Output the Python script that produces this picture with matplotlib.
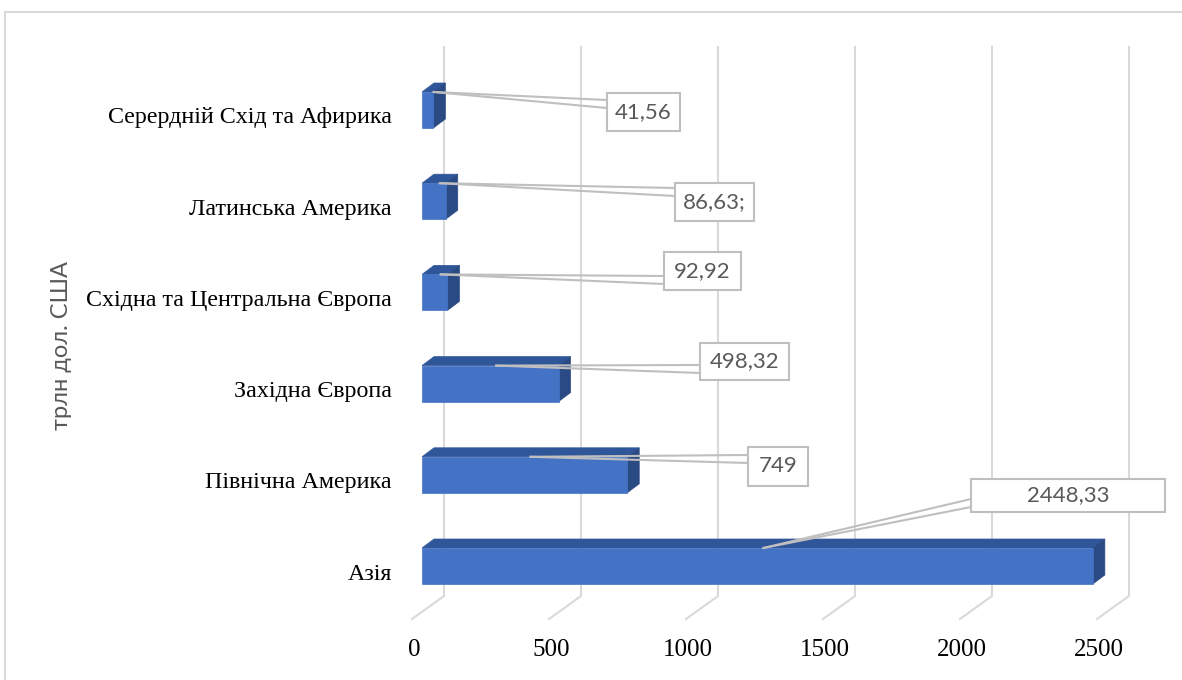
import matplotlib
matplotlib.use("Agg")
import matplotlib.pyplot as plt
from matplotlib.patches import Rectangle, Polygon
from matplotlib.lines import Line2D

# ---------------- data ----------------
categories = ["Азія", "Північна Америка", "Західна Європа",
              "Східна та Центральна Європа", "Латинська Америка",
              "Серердній Схід та Афирика"]
values = [2448.33, 749, 498.32, 92.92, 86.63, 41.56]
value_labels = ["2448,33", "749", "498,32", "92,92", "86,63;", "41,56"]
x_ticks = [0, 500, 1000, 1500, 2000, 2500]
y_title = "трлн дол. США"

# ---------------- layout (pixels) ----------------
W, H = 1182, 680
# callout boxes: left, top, width, height, wedge-y (from top)
boxes = [(971, 479, 194, 33, 503),
         (748, 447, 60, 39, 459),
         (700, 343, 89, 37, 369),
         (664, 252, 77, 38, 280),
         (675, 183, 79, 38, 192),
         (607, 93, 73, 38, 104)]

FRONT = "#4472C4"
TOP = "#30569A"
SIDE = "#2A4A84"
GRID = "#D9D9D9"
TXT_GRAY = "#595959"

fig = plt.figure(figsize=(W / 100, H / 100), dpi=100)
ax_left, ax_right = 422, 1107
ax_top, ax_bot = 47, 619
ax = fig.add_axes([ax_left / W, 1 - ax_bot / H, (ax_right - ax_left) / W, (ax_bot - ax_top) / H])
ax.set_xlim(0, 2500)
unit = 91.2
ax.set_ylim(-(ax_bot - 566) / unit, (566 - ax_top) / unit)
ax.axis("off")
ax.patch.set_alpha(0)

inv = ax.transData.inverted()


def pd(x, y, dx=0.0, dy=0.0):
    """data point shifted by pixel offsets (dy positive downward) -> data coords"""
    disp = ax.transData.transform((x, y))
    return tuple(inv.transform((disp[0] + dx, disp[1] - dy)))


def pix(px, py):
    return tuple(inv.transform((px, H - py)))


# chart border
fig.add_artist(Line2D([5 / W, 1], [1 - 12 / H, 1 - 12 / H], color=GRID, lw=1.5))
fig.add_artist(Line2D([5 / W, 5 / W], [0, 1 - 12 / H], color=GRID, lw=1.5))

# gridlines (back wall + floor)
y_back_floor = -(596 - 566) / unit
for t in x_ticks:
    p_top = pd(t, ax.get_ylim()[1], 22, 0)
    p_back = pd(t, y_back_floor, 22, 0)
    p_front = pd(t, y_back_floor, -10, 23)
    ax.add_line(Line2D([p_top[0], p_back[0], p_front[0]],
                       [p_top[1], p_back[1], p_front[1]],
                       color=GRID, lw=1.5, zorder=1, clip_on=False))
    lab = pd(t, y_back_floor, -8, 54)
    ax.text(lab[0], lab[1], f"{t}", ha="center", va="center",
            fontsize=18, family="Liberation Serif", color="#000000")

# bars
h = 36 / unit
ddx = pd(0, 0, 12, 0)[0] - 0
ddy = pd(0, 0, 0, -9)[1] - 0
for i, v in enumerate(values):
    y0, y1 = i - h / 2, i + h / 2
    ax.add_patch(Polygon([(0, y1), (v, y1), (v + ddx, y1 + ddy), (ddx, y1 + ddy)],
                         closed=True, facecolor=TOP, edgecolor=TOP, lw=0.5, zorder=3))
    ax.add_patch(Polygon([(v, y0), (v, y1), (v + ddx, y1 + ddy), (v + ddx, y0 + ddy)],
                         closed=True, facecolor=SIDE, edgecolor=SIDE, lw=0.5, zorder=3))
    ax.add_patch(Rectangle((0, y0), v, h, facecolor=FRONT, edgecolor=FRONT, lw=0.5, zorder=4))
    # category labels
    lp = pd(0, i, -30, 8)
    ax.text(lp[0], lp[1], categories[i], ha="right", va="center",
            fontsize=17.3, family="Liberation Serif", color="#000000")

# callouts
for i, v in enumerate(values):
    left, top, bw, bh, wy = boxes[i]
    anchor = pd(v / 2, i + h / 2, 6, 0)
    a1 = pix(left, wy - 4)
    a2 = pix(left, wy + 4)
    ax.add_line(Line2D([anchor[0], a1[0]], [anchor[1], a1[1]], color="#BFBFBF", lw=1.5,
                       zorder=6, clip_on=False))
    ax.add_line(Line2D([anchor[0], a2[0]], [anchor[1], a2[1]], color="#BFBFBF", lw=1.5,
                       zorder=6, clip_on=False))
    c0 = pix(left, top + bh)
    c1 = pix(left + bw, top)
    ax.add_patch(Rectangle(c0, c1[0] - c0[0], c1[1] - c0[1], facecolor="white",
                           edgecolor="#BFBFBF", lw=1.5, zorder=7, clip_on=False))
    tc = pix(left + bw / 2, top + bh / 2)
    ax.text(tc[0], tc[1], value_labels[i], ha="center", va="center", fontsize=16,
            family="Lato", color=TXT_GRAY, zorder=8)

# axis title
fig.text(62 / W, 1 - 345 / H, y_title, rotation=90, ha="center", va="center",
         fontsize=17, family="Lato", color=TXT_GRAY)

fig.savefig("out.png", dpi=100, facecolor="white")
